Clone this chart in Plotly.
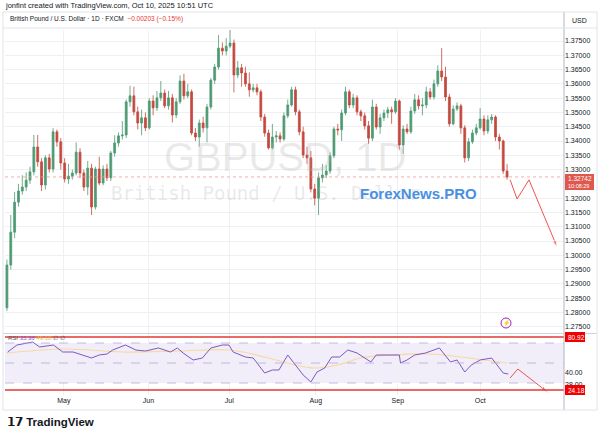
import plotly.graph_objects as go

closes = [1.2966,1.3081,1.3186,1.3225,1.3239,1.3263,1.3292,1.3379,1.3327,1.3246,
1.3341,1.3302,1.3432,1.3397,1.3323,1.3267,1.3277,1.3288,1.3361,1.3288,
1.3239,1.3305,1.3169,1.3302,1.3253,1.3302,1.3271,1.3358,1.3393,1.3418,
1.3421,1.3537,1.3558,1.3502,1.3463,1.3481,1.3446,1.3540,1.3516,1.3551,
1.3568,1.3523,1.3551,1.3491,1.3537,1.3610,1.3558,1.3572,1.3428,1.3414,
1.3463,1.3446,1.3519,1.3613,1.3659,1.3725,1.3715,1.3732,1.3743,1.3631,
1.3656,1.3638,1.3600,1.3579,1.3586,1.3572,1.3484,1.3428,1.3376,1.3414,
1.3418,1.3407,1.3488,1.3526,1.3579,1.3502,1.3432,1.3351,1.3341,1.3232,
1.3200,1.3271,1.3281,1.3295,1.3348,1.3442,1.3439,1.3498,1.3572,1.3526,
1.3551,1.3502,1.3488,1.3453,1.3410,1.3519,1.3449,1.3481,1.3498,1.3509,
1.3502,1.3540,1.3386,1.3442,1.3432,1.3505,1.3544,1.3523,1.3526,1.3572,
1.3554,1.3600,1.3645,1.3624,1.3554,1.3460,1.3512,1.3523,1.3446,1.3341,
1.3397,1.3428,1.3446,1.3477,1.3435,1.3474,1.3484,1.3414,1.3400,1.3295,1.3274]
highs = [1.2985,1.3141,1.3222,1.3250,1.3280,1.3290,1.3310,1.3421,1.3421,1.3340,
1.3350,1.3355,1.3445,1.3440,1.3410,1.3340,1.3320,1.3300,1.3395,1.3375,
1.3300,1.3330,1.3320,1.3310,1.3345,1.3315,1.3320,1.3365,1.3420,1.3430,
1.3470,1.3545,1.3593,1.3590,1.3520,1.3510,1.3500,1.3550,1.3560,1.3575,
1.3610,1.3580,1.3575,1.3565,1.3550,1.3630,1.3635,1.3600,1.3580,1.3445,
1.3475,1.3485,1.3530,1.3620,1.3670,1.3771,1.3745,1.3760,1.3789,1.3755,
1.3680,1.3670,1.3660,1.3640,1.3600,1.3600,1.3580,1.3495,1.3440,1.3460,
1.3435,1.3430,1.3500,1.3545,1.3590,1.3590,1.3510,1.3450,1.3380,1.3365,
1.3250,1.3290,1.3320,1.3315,1.3360,1.3450,1.3460,1.3510,1.3590,1.3580,
1.3565,1.3560,1.3510,1.3500,1.3470,1.3545,1.3530,1.3495,1.3510,1.3520,
1.3520,1.3550,1.3545,1.3455,1.3460,1.3520,1.3565,1.3560,1.3550,1.3590,
1.3585,1.3615,1.3665,1.3725,1.3660,1.3565,1.3525,1.3535,1.3530,1.3455,
1.3410,1.3440,1.3460,1.3515,1.3490,1.3490,1.3495,1.3490,1.3425,1.3405,1.3320]
lows = [1.2805,1.2950,1.3060,1.3170,1.3212,1.3225,1.3250,1.3280,1.3310,1.3225,
1.3230,1.3290,1.3290,1.3380,1.3300,1.3255,1.3250,1.3265,1.3280,1.3270,
1.3225,1.3210,1.3141,1.3160,1.3245,1.3245,1.3260,1.3260,1.3345,1.3380,
1.3405,1.3410,1.3520,1.3490,1.3440,1.3420,1.3435,1.3440,1.3490,1.3505,
1.3540,1.3515,1.3510,1.3465,1.3480,1.3530,1.3545,1.3550,1.3420,1.3400,
1.3380,1.3430,1.3395,1.3510,1.3600,1.3650,1.3700,1.3700,1.3725,1.3570,
1.3620,1.3590,1.3590,1.3555,1.3570,1.3560,1.3470,1.3415,1.3370,1.3370,
1.3395,1.3395,1.3400,1.3480,1.3520,1.3490,1.3420,1.3340,1.3320,1.3220,
1.3175,1.3141,1.3255,1.3270,1.3285,1.3340,1.3420,1.3400,1.3490,1.3515,
1.3515,1.3490,1.3470,1.3440,1.3390,1.3400,1.3440,1.3425,1.3470,1.3480,
1.3460,1.3495,1.3370,1.3355,1.3425,1.3425,1.3495,1.3510,1.3490,1.3515,
1.3545,1.3545,1.3590,1.3610,1.3540,1.3450,1.3455,1.3505,1.3425,1.3325,
1.3330,1.3390,1.3420,1.3440,1.3420,1.3425,1.3460,1.3400,1.3370,1.3285,1.3265]
first_open = 1.2816
opens = [first_open] + closes[:-1]
idx = list(range(len(closes)))

rsi_idx = [0.2,2.6,6.7,8.5,12.1,14.5,17.2,19.5,22,24,26,27.5,30.8,33.5,36,39.4,42.5,44.3,45.8,48.4,
           50.8,53,56,57.7,58.8,62,64,67,69,70.7,73,75,77,79,80.6,82.6,84.4,86.5,88.6,91,
           94.6,96,99,102,102.3,104,106,108.8,112.4,115.3,117,119,120.7,123,126,127.5,129,130.3]
rsi_val = [61,68,71,66,68,61,61,58,55,58,59,63,68,63,62,65,61,65,60,53,
           55,65,68,68,61,56,55,40,43,43,58,48,38,31,41,45,56,56,63,60,
           51,58,58,58,50,53,58,60,65,51,53,41,48,53,55,48,40,39]
ma_idx = [0,15,30,45,58,68,75,80,86,92,100,110,118,124,130]
ma_val = [60,64,61,62,63,55,48,45,48,55,58,59,56,53,50]

month_labels = ["May","Jun","Jul","Aug","Sep","Oct"]
month_pos = [14.8,36.8,57.8,80.3,101.6,123]
price_ticks = [1.275,1.28,1.285,1.29,1.295,1.30,1.305,1.31,1.315,1.32,
               1.33,1.335,1.34,1.345,1.35,1.355,1.36,1.365,1.37,1.375]

proj_idx = [130.8,132.6,135.7,143]
proj_price = [1.3264,1.3197,1.3264,1.3029]
rsi_proj_idx = [130.8,132.8,140.5]
rsi_proj_val = [35,44,21]

GREEN, RED = "#4e9a74", "#c4493f"
fig = go.Figure()
fig.add_trace(go.Candlestick(x=idx, open=opens, high=highs, low=lows, close=closes,
    increasing=dict(line=dict(color=GREEN, width=0.8), fillcolor=GREEN),
    decreasing=dict(line=dict(color=RED, width=0.8), fillcolor=RED),
    whiskerwidth=0, xaxis="x", yaxis="y", showlegend=False, hoverinfo="skip"))
fig.add_trace(go.Scatter(x=proj_idx, y=proj_price, mode="lines+markers", xaxis="x", yaxis="y",
    line=dict(color="#ef5350", width=1), marker=dict(symbol=["circle","circle","circle","arrow"], size=[0,0,0,7],
    angleref="previous", color="#ef5350"), showlegend=False))
fig.add_trace(go.Scatter(x=ma_idx, y=ma_val, mode="lines", line=dict(color="#f5d9a0", width=1.2, shape="spline"),
    xaxis="x2", yaxis="y2", showlegend=False))
fig.add_trace(go.Scatter(x=rsi_idx, y=rsi_val, mode="lines", line=dict(color="#7e57c2", width=1),
    xaxis="x2", yaxis="y2", showlegend=False))
fig.add_trace(go.Scatter(x=rsi_proj_idx, y=rsi_proj_val, mode="lines+markers", xaxis="x2", yaxis="y2",
    line=dict(color="#ef5350", width=1), marker=dict(symbol=["circle","circle","arrow"], size=[0,0,7],
    angleref="previous", color="#ef5350"), showlegend=False))

def px(x): return x/600
def py(y): return 1-y/439

xr = [-0.5, 144.8]
dom = [px(5), px(564)]
fig.update_layout(
    width=600, height=439, margin=dict(l=0, r=0, t=0, b=0),
    paper_bgcolor="white", plot_bgcolor="white",
    font=dict(family="Liberation Sans, Arial", color="#131722"),
    xaxis=dict(domain=dom, range=xr, anchor="y", showticklabels=False, tickvals=month_pos,
               showgrid=True, gridcolor="#eef0f3", zeroline=False, rangeslider=dict(visible=False)),
    yaxis=dict(domain=[py(333), py(30)], range=[1.2728, 1.37885], side="right", tickvals=price_ticks,
               tickformat=".5f", tickfont=dict(size=7), showgrid=True, gridcolor="#eef0f3",
               zeroline=False, ticks="", anchor="x"),
    xaxis2=dict(domain=dom, range=xr, anchor="y2", tickvals=month_pos, ticktext=month_labels,
                tickfont=dict(size=7), showgrid=True, gridcolor="#eef0f3", zeroline=False, ticks=""),
    yaxis2=dict(domain=[py(395), py(334)], range=[18, 79], side="right", tickvals=[28, 40],
                ticktext=["28.00", "40.00"], tickfont=dict(size=7), showgrid=False, zeroline=False, anchor="x2"),
)
shapes = []
shapes.append(dict(type="rect", xref="x2 domain", yref="y2", x0=0, x1=1, y0=30, y1=70,
                   fillcolor="rgba(126,87,194,0.1)", line_width=0, layer="below"))
for v in [70, 50, 30]:
    shapes.append(dict(type="line", xref="x2 domain", yref="y2", x0=0, x1=1, y0=v, y1=v,
                       line=dict(color="#b6a8d6", width=0.8, dash="dash")))
shapes.append(dict(type="line", xref="x domain", yref="y", x0=0, x1=1, y0=1.32742, y1=1.32742,
                   line=dict(color="#ef9a9a", width=0.8, dash="dot")))
for y in [337, 390]:
    shapes.append(dict(type="line", xref="paper", yref="paper", x0=px(5), x1=px(564), y0=py(y), y1=py(y),
                       line=dict(color="#e53935", width=1.5)))
shapes.append(dict(type="line", xref="paper", yref="paper", x0=px(564), x1=px(564), y0=py(410), y1=py(12),
                   line=dict(color="#b2b5be", width=1)))
shapes.append(dict(type="line", xref="paper", yref="paper", x0=px(3), x1=px(597), y0=py(333.5), y1=py(333.5),
                   line=dict(color="#d1d4dc", width=1)))
shapes.append(dict(type="rect", xref="paper", yref="paper", x0=px(3), x1=px(597), y0=py(410), y1=py(12),
                   line=dict(color="#e0e3eb", width=1)))
shapes.append(dict(type="line", xref="paper", yref="paper", x0=px(3), x1=px(597), y0=py(28), y1=py(28),
                   line=dict(color="#e0e3eb", width=1)))
shapes.append(dict(type="rect", xref="paper", yref="paper", x0=px(565), x1=px(594), y0=py(190), y1=py(174),
                   fillcolor="#e0574d", line_width=0))
for y in [337, 390]:
    shapes.append(dict(type="rect", xref="paper", yref="paper", x0=px(565), x1=px(585), y0=py(y+5), y1=py(y-5),
                       fillcolor="#f00000", line_width=0))
shapes.append(dict(type="circle", xref="paper", yref="paper", x0=px(501), x1=px(511), y0=py(328), y1=py(318),
                   line=dict(color="#9c27b0", width=1)))
fig.update_layout(shapes=shapes)

ann = []
def A(x, y, t, size=8, color="#131722", xa="left", **kw):
    ann.append(dict(xref="paper", yref="paper", x=px(x), y=py(y), text=t, showarrow=False,
                    font=dict(size=size, color=color, **kw), xanchor=xa, yanchor="middle"))
A(3, 6, "jonfint created with TradingView.com, Oct 10, 2025 10:51 UTC", 7.5)
A(8, 19, "British Pound / U.S. Dollar · 1D · FXCM  <span style='color:#e53935'>−0.00203 (−0.15%)</span>", 6.5)
A(570, 21, "USD", 7)
A(285, 157, "GBPUSD, 1D", 40, "rgba(180,180,180,0.28)", "center")
A(265, 193, "British Pound / U.S. Dollar", 19, "rgba(180,180,180,0.28)", "center", family="DejaVu Sans Mono")
A(418, 193, "<b>ForexNews.PRO</b>", 15, "#4a90e2", "center")
A(566, 178.5, "1.32742", 6.5, "white")
A(566, 185.5, "10:08:29", 5.5, "white")
A(566, 337, "80.92", 6.5, "white")
A(566, 390, "24.18", 6.5, "white")
A(6, 338, "RSI <span style='color:#7e57c2'>35.36</span> <span style='color:#e0b84c'>49.10</span> ∅ ∅", 6, "#555")
A(506, 323, "⚡", 6, "#9c27b0", "center")
A(5, 422, "<b>𝟭𝟳 TradingView</b>", 11.5, "#131722")
fig.update_layout(annotations=ann)
fig.write_html("out.html", config={"displayModeBar": False}, post_script="document.body.style.margin='0';")
